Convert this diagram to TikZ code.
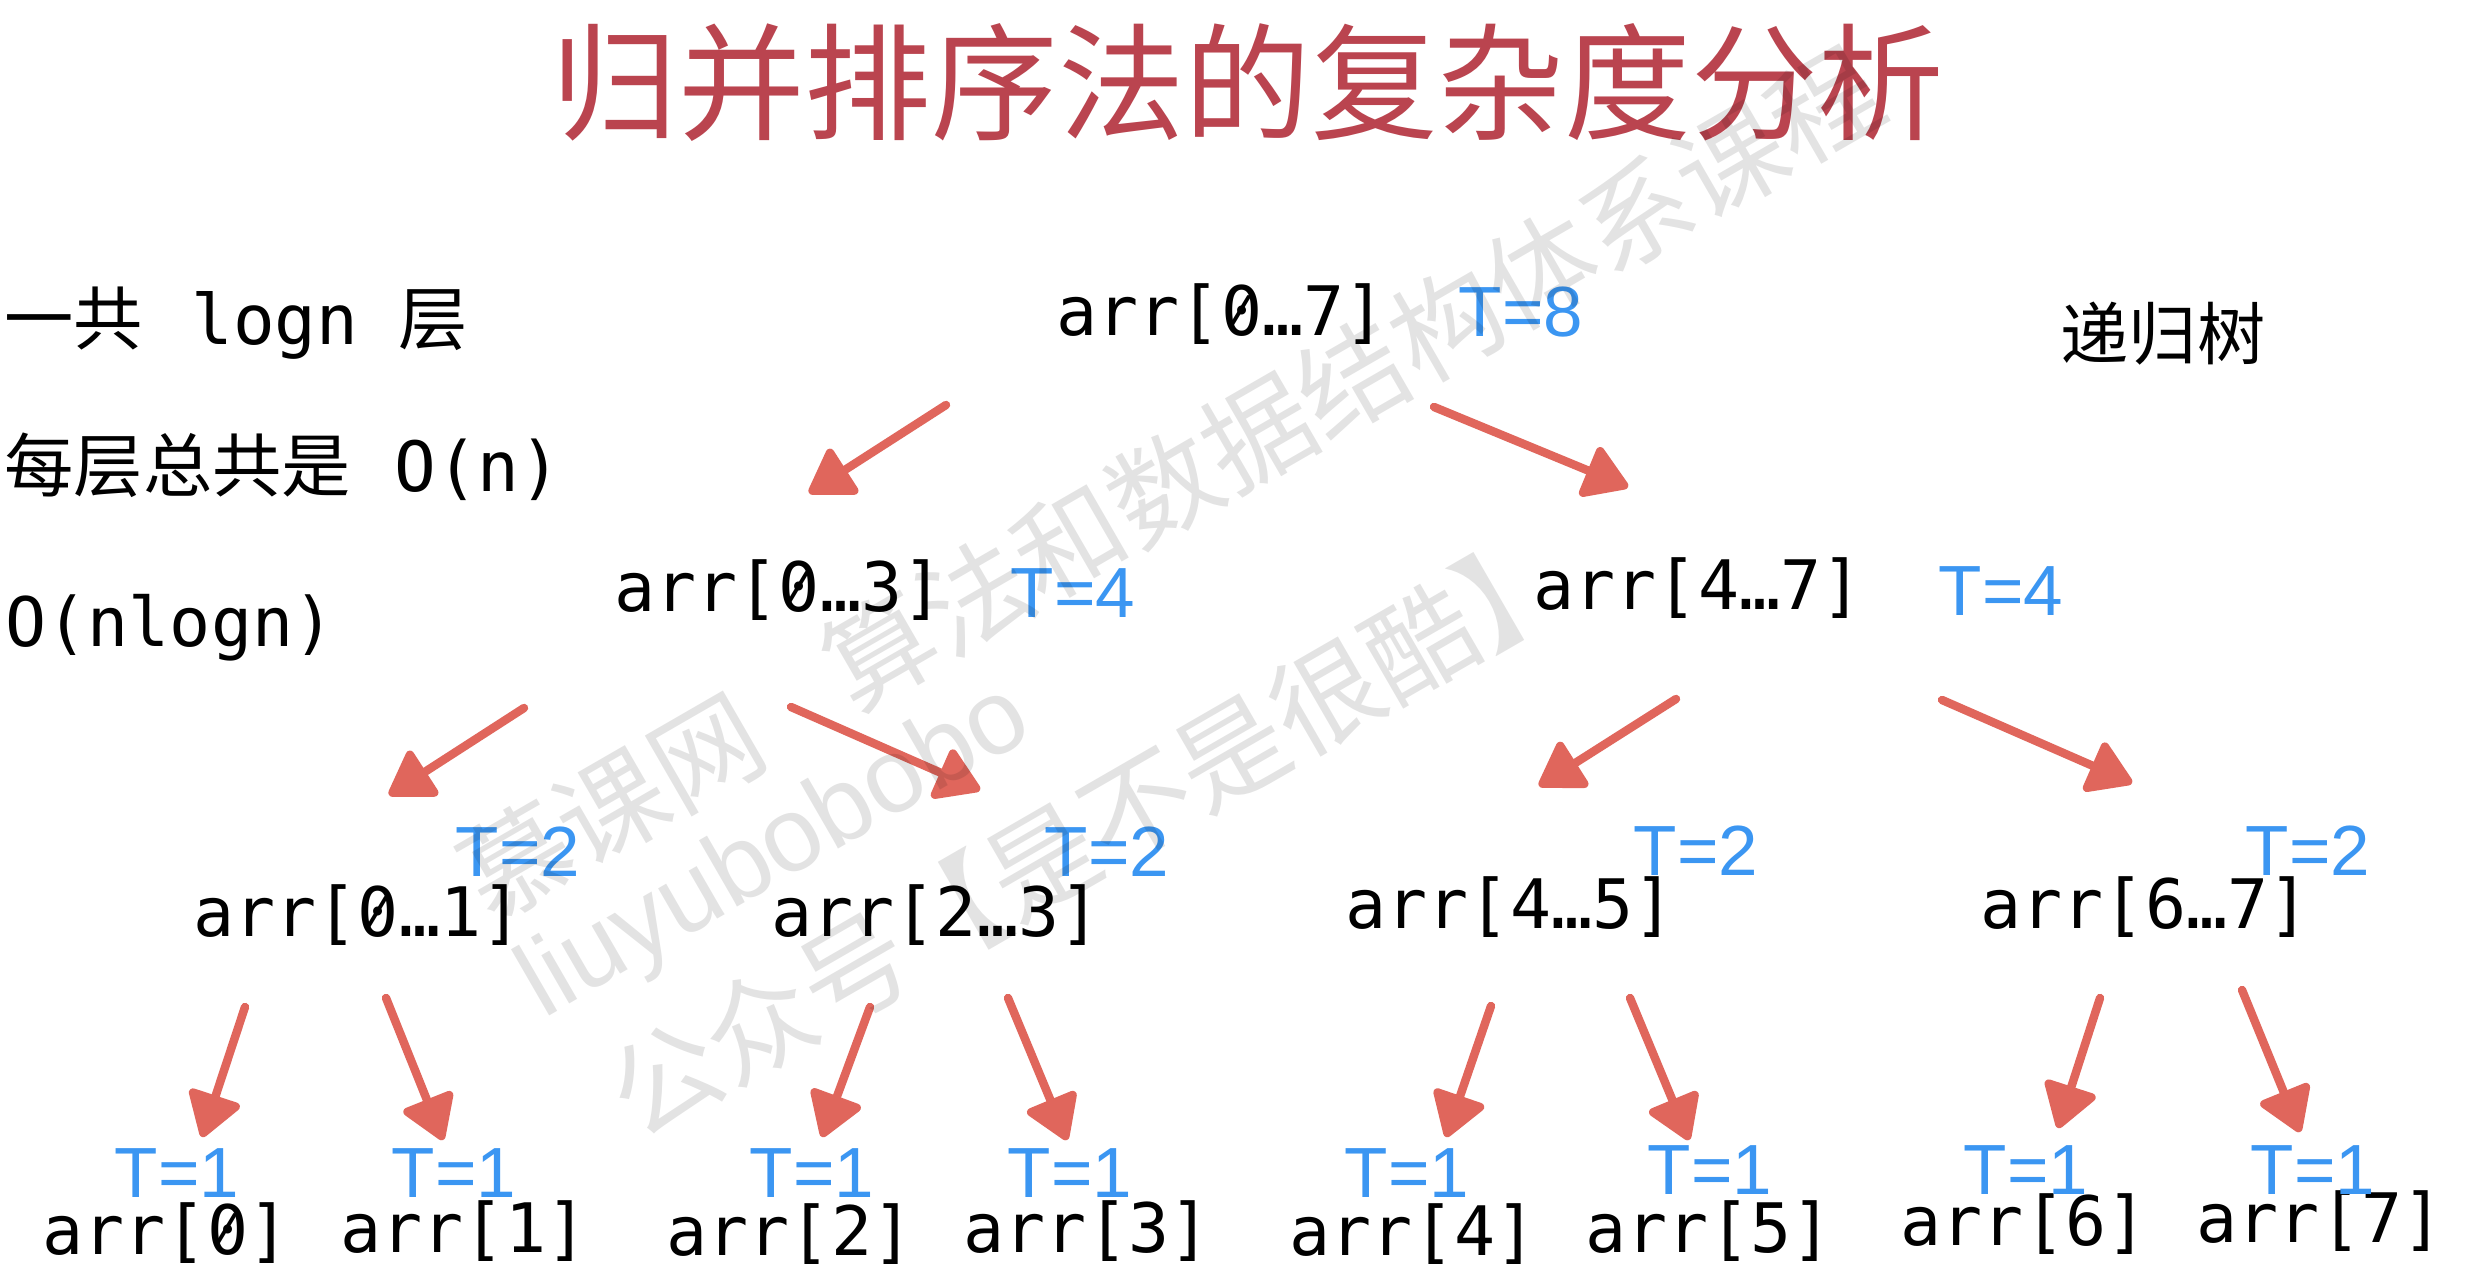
\documentclass[tikz,border=0pt]{standalone}
\usepackage{fontspec}
\usepackage{graphicx}
\usetikzlibrary{arrows.meta}
\newfontfamily\cjk{Noto Sans CJK SC}
\newfontfamily\monof{DejaVu Sans Mono}
\newfontfamily\labf{Liberation Sans}
\definecolor{titlered}{RGB}{186,68,79}
\definecolor{tblue}{RGB}{59,150,242}
\definecolor{ared}{RGB}{224,102,92}
% slashed zero, as in the reference's monospace font
\newcommand{\zr}{\makebox[0pt][l]{0}\makebox[0.602em][c]{\raisebox{0.19em}{\scalebox{0.72}[0.56]{/}}}}
\begin{document}
\begin{tikzpicture}[x=0.01cm,y=-0.01cm,
  arrnode/.style={font=\monof\fontsize{19.4pt}{23pt}\selectfont, anchor=base, inner sep=0pt},
  tnode/.style={font=\labf\fontsize{20.2pt}{24pt}\selectfont, text=tblue, anchor=base, inner sep=0pt},
  leftnote/.style={font=\cjk\fontsize{19.7pt}{23pt}\selectfont, anchor=base west, inner sep=0pt},
  redarrow/.style={draw=ared, line width=2.4pt, line cap=round, line join=round, -{Triangle[length=13.5pt,width=16.5pt,round]}},
  wm/.style={opacity=0.11, rotate=30, anchor=west, inner sep=0pt}
]
\fill[white] (0,0) rectangle (2476,1274);
\useasboundingbox (0,0) rectangle (2476,1274);

% title
\node[font=\cjk\fontsize{36pt}{42pt}\selectfont, text=titlered, inner sep=0pt] (title) at (1248,83) {归并排序法的复杂度分析};

% left notes
\node[leftnote] (note1) at (4,345) {一共\hspace{13.7pt}{\monof logn}\hspace{11.5pt}层};
\node[leftnote] (note2) at (4,492) {每层总共是\hspace{12.3pt}{\monof O(n)}};
\node[leftnote, font=\monof\fontsize{19.4pt}{23pt}\selectfont] (note3) at (5,647) {O(nlogn)};
\node[font=\cjk\fontsize{19.4pt}{23pt}\selectfont, inner sep=0pt] (rtree) at (2163,334) {递归树};

% tree nodes
\node[arrnode] (n07) at (1221,336) {arr[\zr…7]};
\node[tnode] (t07) at (1521,337) {T=8};
\node[arrnode] (n03) at (779,612) {arr[\zr…3]};
\node[tnode] (t03) at (1073,618) {T=4};
\node[arrnode] (n47) at (1698,610) {arr[4…7]};
\node[tnode] (t47) at (2001,616) {T=4};
\node[arrnode] (n01) at (358,937) {arr[\zr…1]};
\node[tnode] (t01) at (518,877) {T=2};
\node[arrnode] (n23) at (936,937) {arr[2…3]};
\node[tnode] (t23) at (1107,877) {T=2};
\node[arrnode] (n45) at (1510,929) {arr[4…5]};
\node[tnode] (t45) at (1696,876) {T=2};
\node[arrnode] (n67) at (2145,929) {arr[6…7]};
\node[tnode] (t67) at (2308,876) {T=2};

\node[arrnode] (n0) at (166,1254) {arr[\zr]};
\node[arrnode] (n1) at (464,1252) {arr[1]};
\node[arrnode] (n2) at (790,1255) {arr[2]};
\node[arrnode] (n3) at (1087,1252) {arr[3]};
\node[arrnode] (n4) at (1413,1255) {arr[4]};
\node[arrnode] (n5) at (1709,1252) {arr[5]};
\node[arrnode] (n6) at (2024,1245) {arr[6]};
\node[arrnode] (n7) at (2320,1242) {arr[7]};
\node[tnode] (l0) at (177,1198) {T=1};
\node[tnode] (l1) at (454,1198) {T=1};
\node[tnode] (l2) at (812,1198) {T=1};
\node[tnode] (l3) at (1070,1198) {T=1};
\node[tnode] (l4) at (1407,1198) {T=1};
\node[tnode] (l5) at (1710,1195) {T=1};
\node[tnode] (l6) at (2026,1195) {T=1};
\node[tnode] (l7) at (2313,1195) {T=1};

% arrow end points
\coordinate (a1s) at (946,405);  \coordinate (a1e) at (809,493);
\coordinate (a2s) at (1434,407); \coordinate (a2e) at (1628,487);
\coordinate (a3s) at (524,708);  \coordinate (a3e) at (389,795);
\coordinate (a4s) at (791,707);  \coordinate (a4e) at (980,790);
\coordinate (a5s) at (1676,699); \coordinate (a5e) at (1539,786);
\coordinate (a6s) at (1942,700); \coordinate (a6e) at (2132,783);
\coordinate (a7s) at (245,1007); \coordinate (a7e) at (202,1137);
\coordinate (a8s) at (386,998);  \coordinate (a8e) at (443,1140);
\coordinate (a9s) at (870,1007); \coordinate (a9e) at (822,1137);
\coordinate (a10s) at (1008,998); \coordinate (a10e) at (1067,1140);
\coordinate (a11s) at (1491,1006); \coordinate (a11e) at (1446,1137);
\coordinate (a12s) at (1630,998); \coordinate (a12e) at (1689,1140);
\coordinate (a13s) at (2100,998); \coordinate (a13e) at (2058,1128);
\coordinate (a14s) at (2242,990); \coordinate (a14e) at (2300,1132);

\foreach \i in {1,...,14} {\draw[redarrow] (a\i s) -- (a\i e);}

% watermark
\node[wm, font=\cjk\fontsize{31pt}{36pt}\selectfont] (wm1) at (469,888) {慕课网\hspace{0.85em}算法和数据结构体系课程};
\node[wm, font=\labf\fontsize{30pt}{36pt}\selectfont] (wm2) at (529,996) {liuyubobobo};
\node[wm, font=\cjk\fontsize{31pt}{36pt}\selectfont] (wm3) at (617,1106) {公众号【是不是很酷】};
\end{tikzpicture}
\end{document}
